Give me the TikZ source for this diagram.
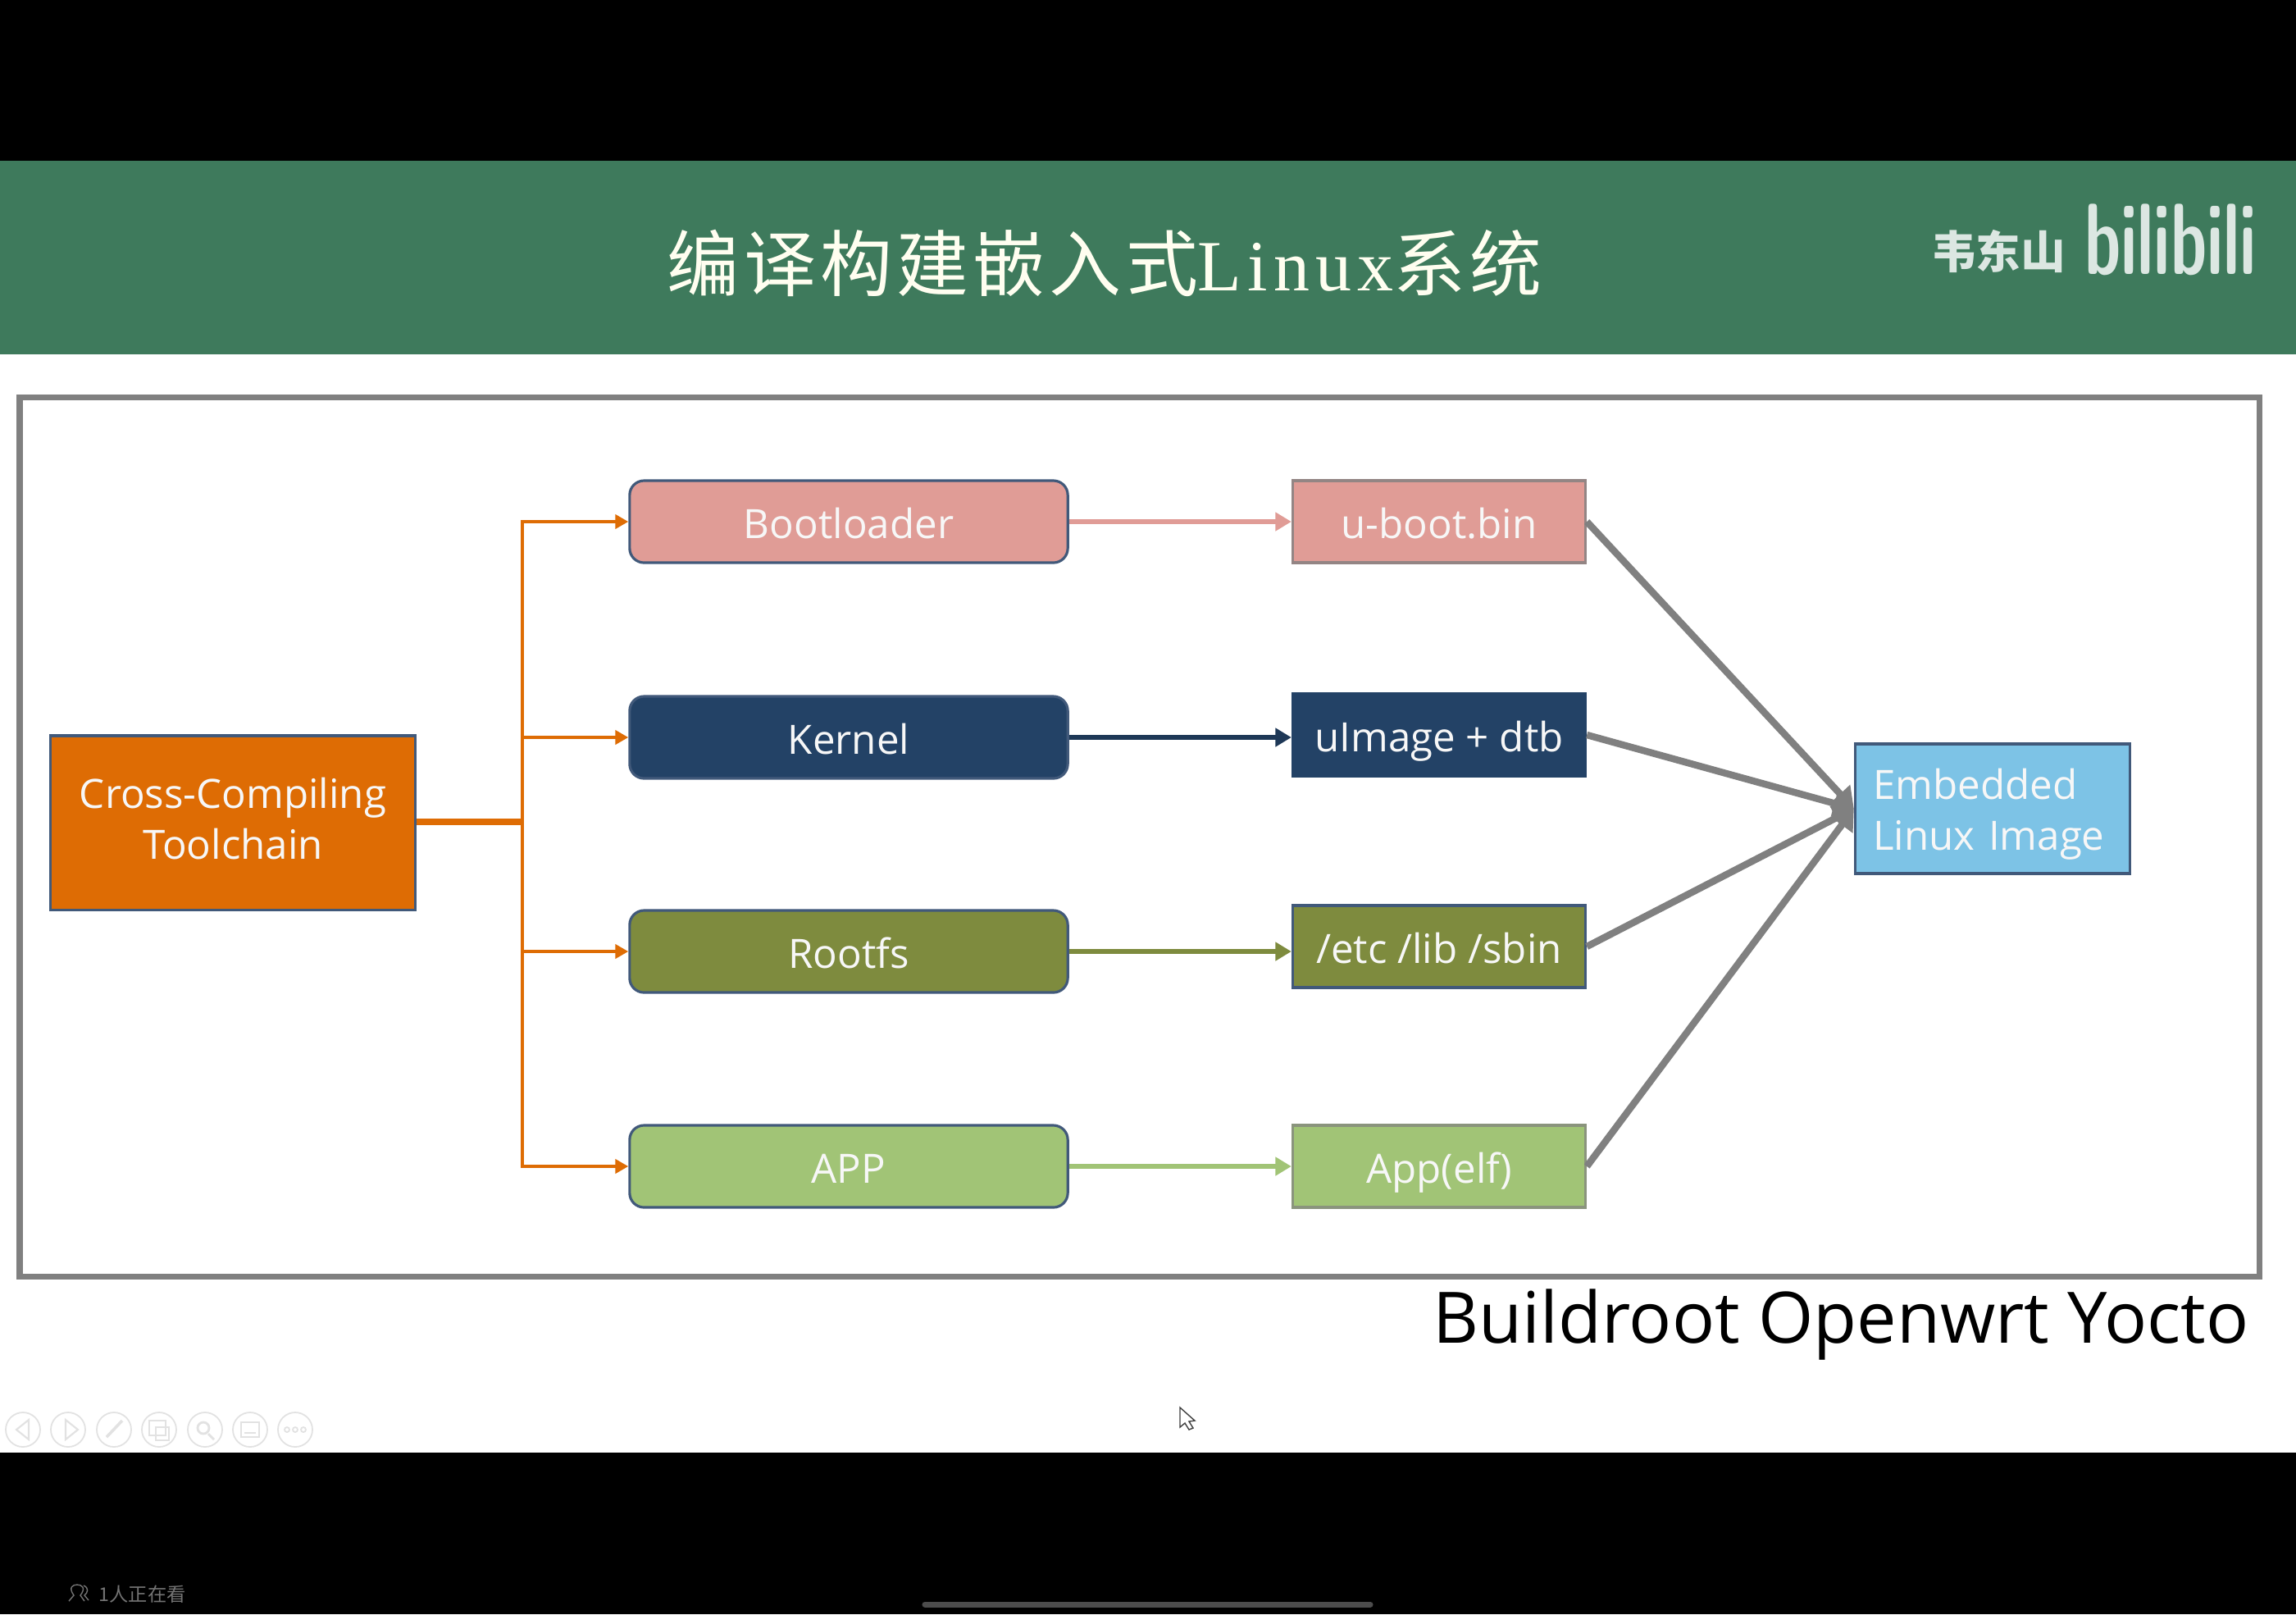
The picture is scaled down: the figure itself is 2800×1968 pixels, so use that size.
\documentclass[tikz,border=0pt]{standalone}
\usepackage{fontspec}
\setmainfont{Open Sans}
\newfontfamily\cjksans{Noto Sans CJK SC}
\newfontfamily\titlecjk[LetterSpace=6]{Noto Sans CJK SC}
\newfontfamily\titlelatin[LetterSpace=8]{Liberation Serif}
\usetikzlibrary{arrows.meta}
\definecolor{bandgreen}{HTML}{3E7A5C}
\definecolor{chainorange}{HTML}{DE6C04}
\definecolor{bootpink}{HTML}{E09C96}
\definecolor{kernelnavy}{HTML}{234266}
\definecolor{rootolive}{HTML}{7E8B3E}
\definecolor{appgreen}{HTML}{A1C476}
\definecolor{imgblue}{HTML}{7DC3E6}
\definecolor{edgeblue}{HTML}{41597A}
\definecolor{toolgrey}{HTML}{E2E2E2}
\tikzset{
	x=0.01cm, y=-0.01cm,
	boxtext/.style={text=white!97!black, font=\fontsize{14}{17.7}\selectfont},
	roundbox/.style={boxtext, draw=edgeblue, line width=0.9pt, rounded corners=5pt, minimum width=5.34cm, minimum height=1cm, inner sep=0pt, text height=0.48cm, text depth=0.08cm},
	outbox/.style={boxtext, line width=0.9pt, minimum width=3.57cm, minimum height=1cm, inner sep=0pt, text height=0.48cm, text depth=0.08cm},
	feedline/.style={line width=1.3pt, -{Triangle[length=4.5pt,width=4.8pt]}},
	passline/.style={line width=1.7pt, -{Triangle[length=5.5pt,width=6.2pt]}},
	intoimg/.style={draw=gray, line width=2.4pt, -{Triangle[length=7pt,width=9pt]}},
	toolring/.style={circle, draw=toolgrey, line width=0.5pt, minimum size=0.42cm, inner sep=0pt},
}
\begin{document}
\begin{tikzpicture}[>=stealth]
	\useasboundingbox (0,0) rectangle (2800,1968);
	% page
	\fill[black] (0,0) rectangle (2800,1968);
	\fill[white] (0,196) rectangle (2800,1771);
	\fill[bandgreen] (0,196) rectangle (2800,432);
	\draw[gray, line width=2pt] (24,484) rectangle (2755,1556);
	% heading
	\node[text=white!94!yellow, anchor=center] (title) at (1347,321) {\fontsize{25}{28}\selectfont\titlecjk 编译构建嵌入式\titlelatin Linux\titlecjk 系统};
	\node[text=white!82!bandgreen, anchor=center] (owner) at (2437,306) {\fontsize{15.5}{18}\selectfont\cjksans\bfseries 韦东山};
	\node[text=white!82!bandgreen, anchor=center, xscale=0.83, yscale=1.3, transform shape] (logo) at (2647,292) {\fontsize{27}{30}\selectfont\sffamily\bfseries bilibili};
	% left column
	\node[boxtext, draw=edgeblue, line width=0.9pt, fill=chainorange, minimum width=4.44cm, minimum height=2.12cm, inner sep=0pt, align=center, text depth=0.11cm] (chain) at (284,1003) {Cross-Compiling\\Toolchain};
	\node[roundbox, fill=bootpink] (boot) at (1035,636) {Bootloader};
	\node[roundbox, fill=kernelnavy] (kernel) at (1035,899) {Kernel};
	\node[roundbox, fill=rootolive] (root) at (1035,1160) {Rootfs};
	\node[roundbox, fill=appgreen] (app) at (1035,1422) {APP};
	% outputs
	\node[outbox, fill=bootpink, draw=gray!80!bootpink] (ubin) at (1755,636) {u-boot.bin};
	\node[outbox, fill=kernelnavy, draw=kernelnavy] (uimg) at (1755,896) {uImage + dtb};
	\node[outbox, fill=rootolive, draw=edgeblue] (etc) at (1755,1154) {/etc /lib /sbin};
	\node[outbox, fill=appgreen, draw=gray!70!appgreen] (elf) at (1755,1422) {App(elf)};
	\node[boxtext, draw=edgeblue, line width=0.9pt, fill=imgblue, minimum width=3.35cm, minimum height=1.58cm, inner sep=0pt, align=left, text width=2.91cm, text height=0.5cm] (img) at (2430,986) {Embedded\\Linux Image};
	% connectors
	\coordinate (trunk) at (637,1002);
	\draw[chainorange, line width=2.5pt] (chain.east |- trunk) -- (trunk);
	\foreach \x in {boot, kernel, root, app}{
		\draw[chainorange, feedline] (trunk) |- (\x);
	}
	\foreach \x/\y/\c in {boot/ubin/bootpink, kernel/uimg/kernelnavy!85!black, root/etc/rootolive, app/elf/appgreen}{
		\draw[\c, passline] (\x.east) -- (\x.east -| \y.west);
	}
	\foreach \x in {ubin, uimg, etc, elf}{
		\draw[intoimg] (\x.east) -- (img.west);
	}
	% tools
	\node[anchor=base east, inner sep=0pt] (tools) at (2743,1637) {\fontsize{24.6}{30}\selectfont Buildroot Openwrt Yocto};
	\foreach \p/\n in {28/prev, 83/next, 139/pen, 194/pages, 250/zoom, 305/subs, 360/more}{
		\node[toolring] (\n) at (\p,1743) {};
	}
	\draw[toolgrey, line width=0.6pt] (35,1731) -- (35,1755) -- (20,1743) -- cycle;
	\draw[toolgrey, line width=0.6pt] (80,1731) -- (80,1755) -- (95,1743) -- cycle;
	\draw[toolgrey, line width=1pt] (130,1752) -- (149,1732);
	\draw[toolgrey, line width=0.6pt] (182,1732) rectangle (202,1750) (190,1740) rectangle (206,1756);
	\draw[toolgrey, line width=0.8pt] (248,1741) circle (0.07cm) (254,1748) -- (261,1755);
	\draw[toolgrey, line width=0.7pt] (294,1734) rectangle (316,1752) (298,1747) -- (312,1747);
	\foreach \d in {-10,0,10}{
		\draw[toolgrey, line width=0.5pt] (360+\d,1743) circle (0.03cm);
	}
	% cursor
	\draw[black!75, fill=white, line width=0.4pt] (1439,1716) -- (1439,1740) -- (1445,1735) -- (1450,1743) -- (1455,1741) -- (1450,1733) -- (1457,1732) -- cycle;
	% footer
	\node[text=black!55, anchor=west, inner sep=0pt] (watching) at (120,1944) {\fontsize{6.6}{8}\selectfont\cjksans 1人正在看};
	\draw[black!55, line width=0.4pt] (84,1952) -- (90,1945) .. controls (83,1935) and (89,1932) .. (94,1932) .. controls (100,1932) and (105,1936) .. (98,1945) -- (103,1952);
	\draw[black!55, line width=0.4pt] (102,1933) .. controls (109,1936) and (107,1942) .. (103,1945) -- (108,1951);
	\draw[black!70, line width=2pt, line cap=round] (1128,1956) -- (1671,1956);
\end{tikzpicture}
\end{document}
